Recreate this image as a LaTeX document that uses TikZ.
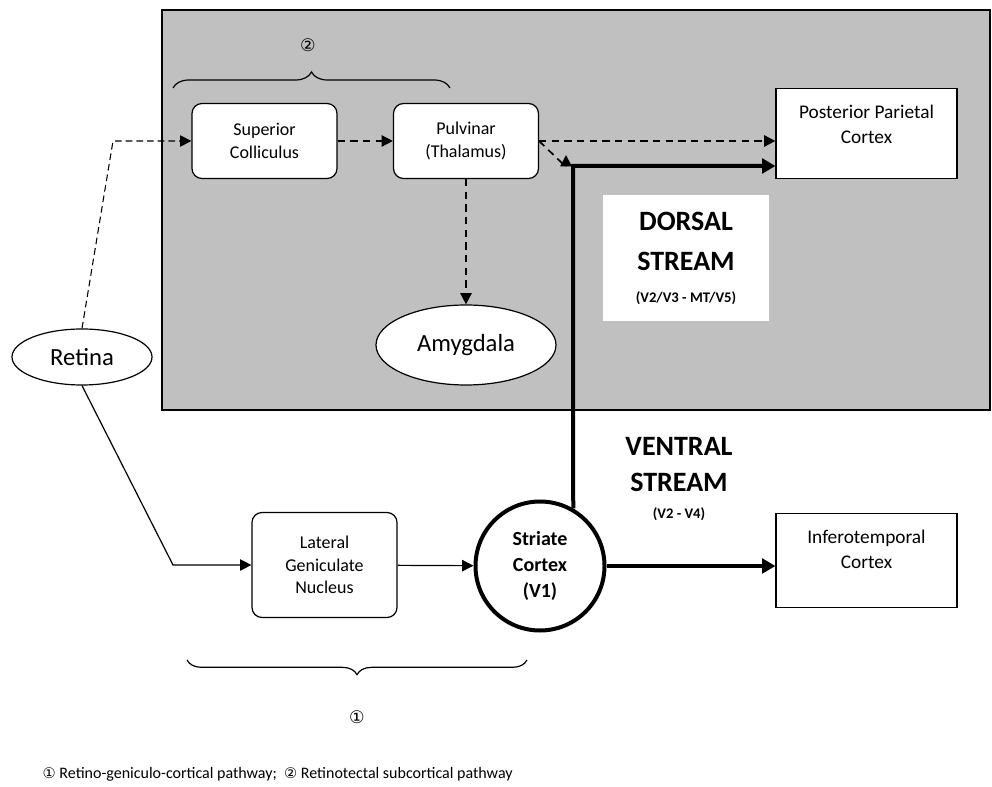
\documentclass[tikz,border=0pt]{standalone}
\usepackage{fontspec}
\setmainfont{Carlito}
\newfontfamily\circfont{DejaVu Sans}
\usepackage{xcolor}
\usepackage{tikz}
\usetikzlibrary{shapes,arrows.meta}
\usetikzlibrary{positioning}
\usetikzlibrary{decorations.pathreplacing}
\definecolor{panelgray}{RGB}{192,192,192}
\tikzstyle{block} = [rectangle, draw, fill=white, line width=0.9pt,
    rounded corners=7.5pt, align=center, minimum width=108.75pt,
    minimum height=56.25pt, font=\fontsize{13.5}{17}\selectfont]
\tikzstyle{cortex} = [rectangle, draw, fill=white, line width=0.9pt,
    align=center, minimum width=135.75pt, inner ysep=12pt,
    font=\fontsize{14.5}{19}\selectfont]
\tikzstyle{organ} = [ellipse, draw, fill=white, line width=0.9pt,
    font=\fontsize{18.5}{22}\selectfont]
\tikzstyle{striate} = [circle, draw, fill=white, line width=3pt,
    minimum size=96.75pt, inner sep=0pt, align=center,
    font=\fontsize{15}{19.5}\selectfont\bfseries]
\tikzstyle{stream} = [align=center, font=\fontsize{21}{30}\selectfont\bfseries]
\tikzstyle{line} = [draw, line width=0.9pt, -{Triangle[length=8.5pt,width=8.5pt]}]
\tikzstyle{dline} = [line, line width=1.3pt, dash pattern=on 5.5pt off 4pt]
\tikzstyle{thickline} = [draw, line width=3pt, -{Triangle[length=10pt,width=11pt]}]
\tikzstyle{brace} = [draw, line width=0.9pt, decorate]
\tikzstyle{circnum} = [font=\circfont\fontsize{13}{15}\selectfont]

\begin{document}
\begin{tikzpicture}[x=0.75pt, y=-0.75pt]
  \useasboundingbox (0,0) rectangle (992,787);
  % grey panel
  \draw[fill=panelgray, line width=0.9pt] (162,10) rectangle (990,410);

  % Place nodes
  \node [organ, minimum width=105pt, minimum height=42pt] (retina) at (82,357) {Retina};
  \node [block] (sc) at (264.5,141) {Superior\\Colliculus};
  \node [block] (pulv) at (466,141) {Pulvinar\\(Thalamus)};
  \node [organ, minimum width=135pt, minimum height=60pt] (amyg) at (466,345) {Amygdala};
  \node [cortex, text depth=14pt] (ppc) at (866.5,133.5) {Posterior Parietal\\Cortex};
  \node [block, minimum height=78.75pt] (lgn) at (324.5,565) {Lateral\\Geniculate\\Nucleus};
  \node [striate] (v1) at (540,566) {Striate\\Cortex\\(V1)};
  \node [cortex, text depth=17pt] (it) at (866.5,560.5) {Inferotemporal\\Cortex};

  \node [stream, fill=white, minimum width=124.5pt, minimum height=94.5pt] (dorsal) at (686,258)
    {DORSAL\\STREAM\\[-6pt]{\fontsize{11}{13}\selectfont (V2/V3 - MT/V5)}};
  \node [stream, font=\fontsize{21}{27}\selectfont\bfseries] (ventral) at (679,479)
    {VENTRAL\\STREAM\\[-7pt]{\fontsize{11}{13}\selectfont (V2 - V4)}};

  \coordinate (rtop) at (113,141);
  \coordinate (rbend) at (173,565);
  \coordinate (dcorner) at (573,166);
  \coordinate (pkink) at (566,167);
  \coordinate (ptip) at (566,155);

  % subcortical route
  \path [dline, line width=0.8pt, dash pattern=on 5pt off 3pt] (retina.north) -- (rtop) -- (sc.west);
  \path [dline] (sc) -- (pulv);
  \path [dline] (pulv.east) -- (pulv.east -| ppc.west);
  \path [dline] (pulv) -- (amyg);
  \path [dline] (pulv.east) -- (pkink) -- (ptip);

  % geniculate route
  \path [line] (retina.south) -- (rbend) -- (lgn.west);
  \path [line] (lgn) -- (v1);
  \path [thickline] (v1.60) -- (dcorner) -- (dcorner -| ppc.west);
  \path [thickline] (v1.east) -- (v1.east -| it.west);

  % braces
  \path [brace, decoration={brace, amplitude=12pt}] (173,88) -- (450,88);
  \node [circnum] (two) at (308,45) {②};
  \path [brace, decoration={brace, mirror, amplitude=11pt}] (187,660) -- (527,660);
  \node [circnum] (one) at (357,717) {①};

  \node [anchor=base west, font=\fontsize{12}{14}\selectfont] (legend) at (38,778)
    {{\circfont\fontsize{11}{14}\selectfont ①} Retino-geniculo-cortical pathway;\ \
     {\circfont\fontsize{11}{14}\selectfont ②} Retinotectal subcortical pathway};
\end{tikzpicture}
\end{document}
